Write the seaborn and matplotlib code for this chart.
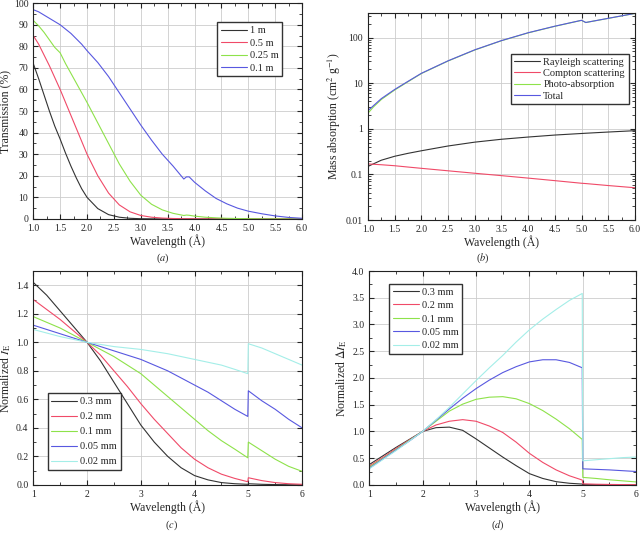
import pandas as pd
import seaborn as sns
import matplotlib.pyplot as plt
from matplotlib.ticker import MultipleLocator, LogLocator, NullFormatter, FormatStrFormatter

# ---- panel (a): transmission through air paths
wl_a = [1.0, 1.1, 1.2, 1.3, 1.4, 1.5, 1.6, 1.7, 1.8, 1.9, 2.0, 2.2, 2.4, 2.6, 2.8, 3.0,
        3.2, 3.4, 3.6, 3.8, 3.85, 3.9, 4.0, 4.2, 4.4, 4.6, 4.8, 5.0, 5.25, 5.5, 5.75, 6.0]
t_1m = [72, 65, 57.5, 50, 43, 37, 30.5, 24.5, 19, 14, 10, 4.8, 2.0, 0.8, 0.3, 0.1,
        0.05, 0.02, 0.01, 0, 0, 0, 0, 0, 0, 0, 0, 0, 0, 0, 0, 0]
t_05m = [85, 81, 76, 71, 65.5, 60, 54, 48, 42, 36, 30, 20, 12, 6.5, 3.3, 1.6,
         0.8, 0.4, 0.2, 0.1, 0.1, 0.1, 0.05, 0.02, 0.01, 0, 0, 0, 0, 0, 0, 0]
t_025m = [92, 89.5, 86.5, 83, 79.5, 77, 72, 67.5, 63, 58.5, 54, 44.5, 35, 25.5, 17.5, 11,
          6.8, 4.2, 2.6, 1.6, 1.8, 1.7, 1.3, 0.8, 0.5, 0.3, 0.2, 0.1, 0.05, 0.02, 0.01, 0]
t_01m = [97, 96, 94.5, 93, 91.5, 90, 88, 86, 83.5, 81, 78, 72.5, 66, 58.5, 51, 43.5,
         36.5, 30, 24.5, 18.5, 19.5, 19.5, 17, 13, 9.5, 7, 5, 3.6, 2.4, 1.4, 0.7, 0.3]
labels_a = ['1 m', '0.5 m', '0.25 m', '0.1 m']

# ---- panel (b): mass absorption
wl_b = [1.0, 1.1, 1.25, 1.5, 1.75, 2.0, 2.5, 3.0, 3.5, 4.0, 4.5, 5.0, 5.08, 5.5, 6.0]
rayleigh = [0.15, 0.17, 0.205, 0.25, 0.29, 0.33, 0.42, 0.51, 0.59, 0.66, 0.73, 0.79, 0.80, 0.85, 0.91]
compton = [0.17, 0.167, 0.163, 0.155, 0.145, 0.136, 0.12, 0.106, 0.094, 0.083, 0.073, 0.064, 0.063, 0.057, 0.051]
photo = [2.2, 3.0, 4.4, 7.1, 10.8, 16.3, 30.7, 53.5, 85.5, 127, 177, 239, 214, 264, 339]
total = [2.5, 3.2, 4.6, 7.3, 11, 16.5, 31, 54, 86, 128, 178, 240, 215, 265, 340]
labels_b = ['Rayleigh scattering', 'Compton scattering', 'Photo-absorption', 'Total']

# ---- panels (c) and (d): normalized I_E and delta I_E
wl_cd = [1.0, 1.25, 1.5, 1.75, 2.0, 2.25, 2.5, 2.75, 3.0, 3.25, 3.5, 3.75, 4.0, 4.25,
         4.5, 4.75, 4.99, 5.0, 5.25, 5.5, 5.75, 6.0]
ie_03 = [1.42, 1.33, 1.22, 1.11, 1.0, 0.87, 0.72, 0.57, 0.42, 0.30, 0.20, 0.12, 0.065, 0.035,
         0.016, 0.008, 0.004, 0.008, 0.004, 0.002, 0.001, 0.0]
ie_02 = [1.30, 1.23, 1.16, 1.08, 1.0, 0.91, 0.80, 0.69, 0.57, 0.46, 0.36, 0.26, 0.18, 0.12,
         0.075, 0.045, 0.022, 0.05, 0.03, 0.016, 0.008, 0.004]
ie_01 = [1.18, 1.14, 1.10, 1.05, 1.0, 0.95, 0.90, 0.84, 0.78, 0.70, 0.62, 0.54, 0.46, 0.38,
         0.31, 0.25, 0.19, 0.30, 0.24, 0.18, 0.13, 0.095]
ie_005 = [1.12, 1.09, 1.06, 1.03, 1.0, 0.97, 0.94, 0.91, 0.88, 0.84, 0.80, 0.75, 0.70, 0.65,
          0.59, 0.53, 0.48, 0.66, 0.59, 0.53, 0.46, 0.40]
ie_002 = [1.09, 1.065, 1.04, 1.02, 1.0, 0.985, 0.97, 0.96, 0.95, 0.935, 0.92, 0.90, 0.88, 0.86,
          0.84, 0.81, 0.78, 0.99, 0.96, 0.92, 0.88, 0.84]
die_03 = [0.38, 0.54, 0.70, 0.85, 1.0, 1.07, 1.08, 1.02, 0.86, 0.69, 0.52, 0.36, 0.21, 0.12,
          0.06, 0.03, 0.015, 0.004, 0.002, 0.001, 0.0, 0.0]
die_02 = [0.35, 0.51, 0.68, 0.84, 1.0, 1.12, 1.19, 1.22, 1.19, 1.10, 0.98, 0.80, 0.59, 0.42,
          0.28, 0.17, 0.09, 0.02, 0.012, 0.008, 0.005, 0.003]
die_01 = [0.33, 0.49, 0.66, 0.83, 1.0, 1.19, 1.38, 1.51, 1.60, 1.64, 1.65, 1.61, 1.52, 1.39,
          1.23, 1.05, 0.85, 0.14, 0.12, 0.095, 0.075, 0.055]
die_005 = [0.31, 0.48, 0.65, 0.82, 1.0, 1.21, 1.42, 1.62, 1.80, 1.96, 2.10, 2.21, 2.30, 2.34,
           2.34, 2.29, 2.19, 0.30, 0.29, 0.28, 0.265, 0.25]
die_002 = [0.30, 0.47, 0.64, 0.82, 1.0, 1.22, 1.45, 1.70, 1.95, 2.19, 2.42, 2.67, 2.90, 3.10,
           3.28, 3.45, 3.58, 0.45, 0.47, 0.49, 0.51, 0.52]
labels_cd = ['0.3 mm', '0.2 mm', '0.1 mm', '0.05 mm', '0.02 mm']

colors = ['#333333', '#f04a68', '#8ee24a', '#5858e0', '#a4eee8']


def long_df(x, series, names):
    rows = []
    for name, vals in zip(names, series):
        rows.append(pd.DataFrame({'wl': x, 'val': vals, 'series': name}))
    return pd.concat(rows, ignore_index=True)


sns.set_style("ticks")
plt.rcParams['font.family'] = ['Liberation Serif', 'DejaVu Serif']
plt.rcParams.update({
    'mathtext.fontset': 'stix',
    'xtick.direction': 'in', 'ytick.direction': 'in',
    'xtick.top': True, 'ytick.right': True,
    'xtick.major.size': 3.5, 'ytick.major.size': 3.5,
    'xtick.minor.size': 2, 'ytick.minor.size': 2,
    'xtick.labelsize': 7, 'ytick.labelsize': 7,
    'axes.labelsize': 8.5, 'axes.linewidth': 0.8,
    'axes.edgecolor': '#222222',
})

fig = plt.figure(figsize=(6.4, 5.34), dpi=100)
ax_a = fig.add_axes([0.052, 0.590, 0.420, 0.404])
ax_b = fig.add_axes([0.575, 0.588, 0.417, 0.388])
ax_c = fig.add_axes([0.052, 0.092, 0.420, 0.4005])
ax_d = fig.add_axes([0.577, 0.092, 0.417, 0.4005])

leg_kw = dict(title=None, frameon=True, fancybox=False, framealpha=1, edgecolor='#333333',
              fontsize=7.5, handlelength=2.5, borderpad=0.35, handletextpad=0.3,
              borderaxespad=0.6)


def draw(ax, df, names, pal):
    sns.lineplot(data=df, x='wl', y='val', hue='series', hue_order=names, palette=pal,
                 estimator=None, sort=False, linewidth=0.8, ax=ax)
    ax.grid(True, which='major', color='#cccccc', linewidth=0.6)
    ax.set_axisbelow(True)
    ax.set_xlabel('Wavelength (Å)', labelpad=1)


# (a)
draw(ax_a, long_df(wl_a, [t_1m, t_05m, t_025m, t_01m], labels_a), labels_a, colors[:4])
ax_a.set_xlim(1, 6)
ax_a.set_ylim(0, 100)
ax_a.xaxis.set_major_locator(MultipleLocator(0.5))
ax_a.xaxis.set_minor_locator(MultipleLocator(0.25))
ax_a.xaxis.set_major_formatter(FormatStrFormatter('%.1f'))
ax_a.yaxis.set_major_locator(MultipleLocator(10))
ax_a.yaxis.set_minor_locator(MultipleLocator(5))
ax_a.set_ylabel('Transmission (%)', labelpad=1)
sns.move_legend(ax_a, 'upper right', bbox_to_anchor=(0.95, 0.94), labelspacing=0.3, **leg_kw)

# (b)
draw(ax_b, long_df(wl_b, [rayleigh, compton, photo, total], labels_b), labels_b, colors[:4])
ax_b.set_yscale('log')
ax_b.set_xlim(1, 6)
ax_b.set_ylim(0.01, 350)
ax_b.xaxis.set_major_locator(MultipleLocator(0.5))
ax_b.xaxis.set_minor_locator(MultipleLocator(0.25))
ax_b.xaxis.set_major_formatter(FormatStrFormatter('%.1f'))
ax_b.set_yticks([0.01, 0.1, 1, 10, 100], labels=['0.01', '0.1', '1', '10', '100'])
ax_b.yaxis.set_minor_locator(LogLocator(base=10, subs=range(2, 10)))
ax_b.yaxis.set_minor_formatter(NullFormatter())
ax_b.set_ylabel(r'Mass absorption (cm$^2$ g$^{-1}$)', labelpad=2)
sns.move_legend(ax_b, 'center right', bbox_to_anchor=(1.0, 0.68), labelspacing=0.2, **leg_kw)

# (c)
draw(ax_c, long_df(wl_cd, [ie_03, ie_02, ie_01, ie_005, ie_002], labels_cd), labels_cd, colors)
ax_c.set_xlim(1, 6)
ax_c.set_ylim(0, 1.5)
ax_c.xaxis.set_major_locator(MultipleLocator(1))
ax_c.xaxis.set_minor_locator(MultipleLocator(0.5))
ax_c.yaxis.set_major_locator(MultipleLocator(0.2))
ax_c.yaxis.set_minor_locator(MultipleLocator(0.1))
ax_c.yaxis.set_major_formatter(FormatStrFormatter('%.1f'))
ax_c.set_ylabel(r'Normalized $I_{\mathrm{E}}$', labelpad=2)
sns.move_legend(ax_c, 'lower left', bbox_to_anchor=(0.03, 0.04), labelspacing=0.55, **leg_kw)

# (d)
draw(ax_d, long_df(wl_cd, [die_03, die_02, die_01, die_005, die_002], labels_cd), labels_cd, colors)
ax_d.set_xlim(1, 6)
ax_d.set_ylim(0, 4.0)
ax_d.xaxis.set_major_locator(MultipleLocator(1))
ax_d.xaxis.set_minor_locator(MultipleLocator(0.5))
ax_d.yaxis.set_major_locator(MultipleLocator(0.5))
ax_d.yaxis.set_minor_locator(MultipleLocator(0.25))
ax_d.yaxis.set_major_formatter(FormatStrFormatter('%.1f'))
ax_d.set_ylabel(r'Normalized $\Delta I_{\mathrm{E}}$', labelpad=2)
sns.move_legend(ax_d, 'upper left', bbox_to_anchor=(0.05, 0.97), labelspacing=0.4, **leg_kw)

for x, y, t in [(0.255, 0.517, '($a$)'), (0.755, 0.517, '($b$)'),
                (0.268, 0.016, '($c$)'), (0.777, 0.016, '($d$)')]:
    fig.text(x, y, t, ha='center', va='center', fontsize=7.5)

fig.savefig('out.png', dpi=100)
